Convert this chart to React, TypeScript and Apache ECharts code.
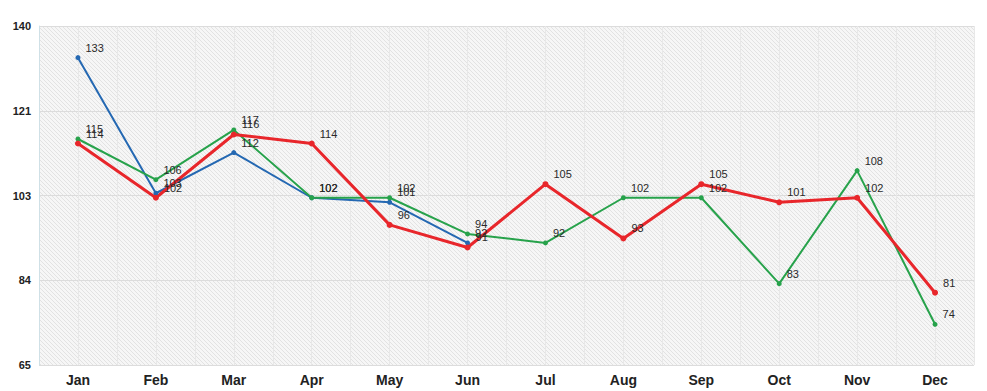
import React, { useEffect, useRef } from "react";
import * as echarts from "echarts";

const months = ["Jan", "Feb", "Mar", "Apr", "May", "Jun", "Jul", "Aug", "Sep", "Oct", "Nov", "Dec"];
const blueValues: (number | null)[] = [133, 103, 112, 102, 101, 92, null, null, null, null, null, null];
const greenValues: number[] = [115, 106, 117, 102, 102, 94, 92, 102, 102, 83, 108, 74];
const redValues: number[] = [114, 102, 116, 114, 96, 91, 105, 93, 105, 101, 102, 81];
const yTickLabels = ["65", "84", "103", "121", "140"];
const yMin = 65;
const yMax = 140;

function makePattern(): string {
  const c = document.createElement("canvas");
  c.width = 4;
  c.height = 4;
  const ctx = c.getContext("2d")!;
  const img = ctx.createImageData(4, 4);
  for (let y = 0; y < 4; y++) {
    for (let x = 0; x < 4; x++) {
      const i = (y * 4 + x) * 4;
      const dark = (x - y + 8) % 4 === 0;
      const v = dark ? 226 : 246;
      img.data[i] = v;
      img.data[i + 1] = v;
      img.data[i + 2] = v;
      img.data[i + 3] = 255;
    }
  }
  ctx.putImageData(img, 0, 0);
  return c.toDataURL();
}

export default function App() {
  const ref = useRef<HTMLDivElement>(null);
  useEffect(() => {
    if (!ref.current) return;
    const chart = echarts.init(ref.current, undefined, { renderer: "svg" });
    const font = "'Liberation Sans', Arial, Helvetica, sans-serif";
    const label = {
      show: true,
      position: "right" as const,
      offset: [0, -10],
      fontSize: 11,
      color: "#2a2a2a",
      textBorderWidth: 0,
      textBorderColor: "transparent",
      fontFamily: font,
    };
    const mk = (name: string, data: (number | null)[], color: string, width: number, size: number) => ({
      name,
      type: "line" as const,
      data,
      xAxisIndex: 0,
      yAxisIndex: 0,
      symbol: "circle",
      symbolSize: size,
      showSymbol: true,
      lineStyle: { color, width },
      itemStyle: { color },
      label,
      connectNulls: false,
    });
    chart.setOption({
      animation: false,
      backgroundColor: "#ffffff",
      grid: {
        left: 39,
        right: 13,
        top: 26,
        bottom: 26,
        show: true,
        borderWidth: 0,
        backgroundColor: { image: makePattern(), repeat: "repeat" } as any,
      },
      xAxis: [
        {
          type: "category",
          data: months,
          boundaryGap: true,
          axisTick: { show: false },
          axisLine: { show: false },
          splitLine: { show: false },
          axisLabel: { fontSize: 14, fontWeight: "bold", color: "#222", margin: 8, fontFamily: font },
        },
        {
          type: "value",
          min: 0,
          max: 24,
          interval: 1,
          position: "bottom",
          axisLabel: { show: false },
          axisTick: { show: false },
          axisLine: { show: false },
          splitLine: { show: true, lineStyle: { color: "#e8e8e8", width: 1 } },
        },
      ],
      yAxis: [
        {
          type: "value",
          min: yMin,
          max: yMax,
          show: false,
          splitLine: { show: false },
        },
        {
          type: "value",
          min: 0,
          max: yTickLabels.length - 1,
          interval: 1,
          position: "left",
          axisTick: { show: false },
          axisLine: { show: true, lineStyle: { color: "#cfe0e6", width: 1 } },
          splitLine: { show: true, lineStyle: { color: "#dcdcdc", width: 1 } },
          axisLabel: {
            formatter: (v: number) => yTickLabels[Math.round(v)] ?? "",
            fontSize: 11,
            fontWeight: "bold",
            color: "#222",
            margin: 8,
            fontFamily: font,
          },
        },
      ],
      series: [
        mk("Blue", blueValues, "#2468b2", 2, 5),
        mk("Green", greenValues, "#27a24b", 2, 5),
        mk("Red", redValues, "#e8262b", 3, 6),
      ],
    });
    return () => chart.dispose();
  }, []);
  return <div ref={ref} style={{ position: "fixed", left: 0, top: 0, width: 987, height: 391 }} />;
}
